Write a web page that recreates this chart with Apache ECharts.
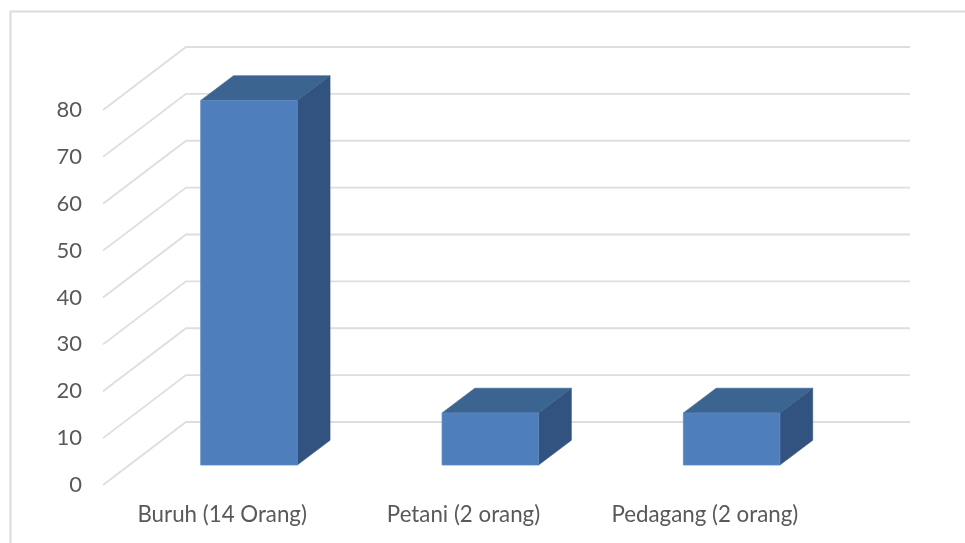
<!DOCTYPE html>
<html>
<head>
<meta charset="utf-8">
<style>
  html, body { margin: 0; padding: 0; background: #fff; }
  #chart { width: 965px; height: 543px; }
</style>
<script src="https://cdn.jsdelivr.net/npm/echarts@6/dist/echarts.min.js"></script>
</head>
<body>
<div id="chart"></div>
<script>
// Share of respondents by occupation
const categories = ['Buruh (14 Orang)', 'Petani (2 orang)', 'Pedagang (2 orang)'];
const values = [77.78, 11.11, 11.11];
const gridTicks = [0, 10, 20, 30, 40, 50, 60, 70, 80];

// Oblique projection: how far the back wall sits from the front plane, in pixels
const wallDx = 83;
const wallDy = 63;
// Bar box position inside the floor depth (front and back as fractions of it)
const barFrontX = 0.305;
const barBackX = 0.70;
const barFrontY = 0.317;
const barBackY = 0.71;
const barWidthRatio = 0.4;

const gridColor = '#dedede';
const textColor = '#595959';
const fontFamily = 'Lato, "Open Sans", sans-serif';
const faceColor = '#4e7fbc';
const faceEdge = '#5c8ac4';
const topColor = '#3c6491';
const sideColor = '#325380';

function renderWall(params, api) {
  const y = api.coord([0, api.value(1)])[1];
  const left = params.coordSys.x;
  const right = left + params.coordSys.width;
  return {
    type: 'polyline',
    shape: { points: [[left, y], [left + wallDx, y - wallDy], [right + wallDx, y - wallDy]] },
    style: { fill: null, stroke: gridColor, lineWidth: 1.8 }
  };
}

function renderBox(params, api) {
  const top = api.coord([api.value(0), api.value(1)]);
  const base = api.coord([api.value(0), 0]);
  const w = api.size([1, 0])[0] * barWidthRatio;
  const fx = wallDx * barFrontX, fy = wallDy * barFrontY;
  const bx = wallDx * barBackX, by = wallDy * barBackY;
  const xL = top[0] - w / 2 + fx, xR = top[0] + w / 2 + fx;
  const yT = top[1] - fy, yB = base[1] - fy;
  const dx = bx - fx, dy = by - fy;
  return {
    type: 'group',
    children: [
      { type: 'polygon', shape: { points: [[xR, yT], [xR + dx, yT - dy], [xR + dx, yB - dy], [xR, yB]] }, style: { fill: sideColor, stroke: sideColor, lineWidth: 0.6 } },
      { type: 'polygon', shape: { points: [[xL, yT], [xL + dx, yT - dy], [xR + dx, yT - dy], [xR, yT]] }, style: { fill: topColor, stroke: topColor, lineWidth: 0.6 } },
      { type: 'rect', shape: { x: xL, y: yT, width: xR - xL, height: yB - yT }, style: { fill: faceColor, stroke: faceEdge, lineWidth: 0.8 } }
    ]
  };
}

const chart = echarts.init(document.getElementById('chart'), null, { renderer: 'canvas' });
chart.setOption({
  animation: false,
  backgroundColor: '#fff',
  grid: { left: 103, right: 138, top: 110, bottom: 58 },
  xAxis: {
    type: 'category',
    data: categories,
    axisLine: { show: false },
    axisTick: { show: false },
    axisLabel: { interval: 0, hideOverlap: false, color: textColor, fontFamily: fontFamily, fontSize: 22.3, margin: 19, padding: [0, 3, 0, 0] }
  },
  yAxis: {
    type: 'value',
    min: 0,
    max: 80,
    interval: 10,
    axisLine: { show: false },
    axisTick: { show: false },
    splitLine: { show: false },
    axisLabel: { color: textColor, fontFamily: fontFamily, fontSize: 22, margin: 21, padding: [5, 0, 0, 0] }
  },
  // Chart-area frame, running off the right and bottom edges of the page
  graphic: [{
    type: 'rect',
    z: -1,
    shape: { x: 10.5, y: 11.5, width: 1200, height: 800 },
    style: { fill: null, stroke: '#dcdcdc', lineWidth: 2 }
  }],
  series: [
    {
      type: 'custom',
      z: 1,
      silent: true,
      renderItem: renderWall,
      encode: { y: 1 },
      data: gridTicks.map(v => [0, v])
    },
    {
      type: 'custom',
      z: 2,
      renderItem: renderBox,
      encode: { x: 0, y: 1 },
      data: values.map((v, i) => [i, v])
    }
  ]
});
</script>
</body>
</html>
